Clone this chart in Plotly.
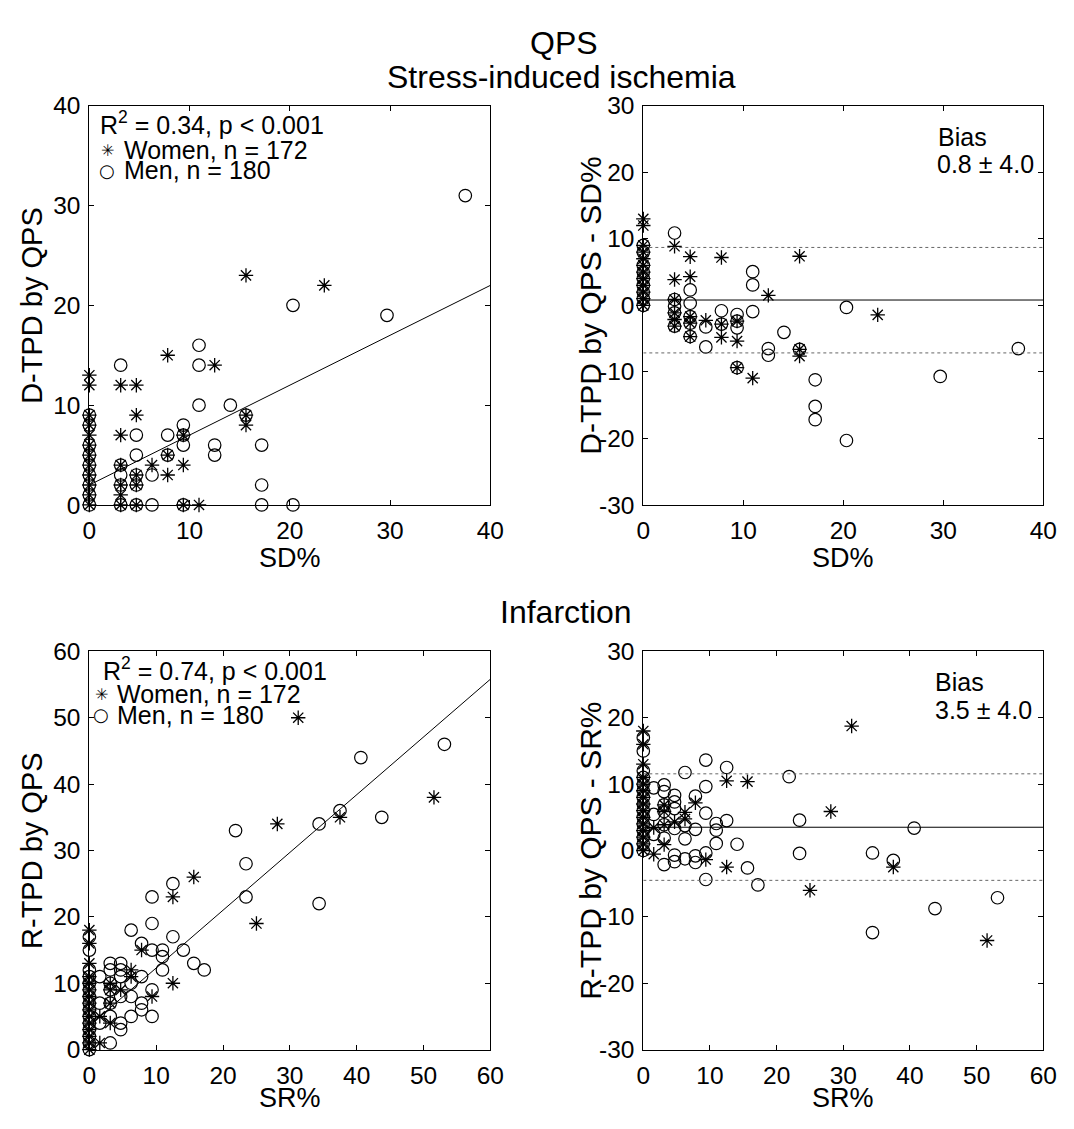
import plotly.graph_objects as go

W, H = 1074, 1129
FONT = "Liberation Sans, Arial, sans-serif"

# ---------------- Stress-induced ischemia: SD% vs D-TPD by QPS ----------------
sd_men_x = [0, 0, 0, 0, 0, 0, 0, 0, 0,
            3.125, 3.125, 3.125, 3.125, 3.125,
            4.6875, 4.6875, 4.6875, 4.6875, 4.6875,
            6.25, 6.25,
            7.8125, 7.8125,
            9.375, 9.375, 9.375, 9.375,
            10.9375, 10.9375, 10.9375,
            12.5, 12.5,
            14.0625,
            15.625,
            17.1875, 17.1875, 17.1875,
            20.3125, 20.3125,
            29.6875,
            37.5]
sd_men_y = [0, 1, 2, 3, 4, 5, 6, 8, 9,
            0, 2, 3, 4, 14,
            0, 2, 3, 5, 7,
            0, 3,
            5, 7,
            0, 6, 7, 8,
            10, 14, 16,
            5, 6,
            10,
            9,
            0, 2, 6,
            0, 20,
            19,
            31]
sd_women_x = [0, 0, 0, 0, 0, 0, 0, 0, 0, 0, 0, 0,
              3.125, 3.125, 3.125, 3.125, 3.125, 3.125,
              4.6875, 4.6875, 4.6875, 4.6875, 4.6875,
              6.25,
              7.8125, 7.8125, 7.8125,
              9.375, 9.375, 9.375,
              10.9375,
              12.5,
              15.625, 15.625, 15.625,
              23.4375]
sd_women_y = [0, 1, 2, 3, 4, 5, 6, 7, 8, 9, 12, 13,
              0, 1, 2, 4, 7, 12,
              0, 2, 3, 9, 12,
              4,
              3, 5, 15,
              0, 4, 7,
              0,
              14,
              8, 9, 23,
              22]
sd_fit = {"intercept": 2.0, "slope": 0.5}
sd_bias = {"mean": 0.8, "sd": 4.0, "upper": 8.7, "lower": -7.15}

# ---------------- Infarction: SR% vs R-TPD by QPS ----------------
sr_men_x = [0, 0, 0, 0, 0, 0, 0, 0, 0, 0, 0, 0, 0, 0, 0,
            1.5625, 1.5625, 1.5625,
            3.125, 3.125, 3.125, 3.125, 3.125, 3.125, 3.125,
            4.6875, 4.6875, 4.6875, 4.6875, 4.6875, 4.6875,
            6.25, 6.25, 6.25, 6.25,
            7.8125, 7.8125, 7.8125, 7.8125,
            9.375, 9.375, 9.375, 9.375, 9.375,
            10.9375, 10.9375, 10.9375,
            12.5, 12.5,
            14.0625,
            15.625,
            17.1875,
            21.875,
            23.4375, 23.4375,
            34.375, 34.375,
            37.5,
            40.625,
            43.75,
            53.125]
sr_men_y = [0, 1, 2, 3, 4, 5, 6, 7, 8, 9, 10, 11, 12, 15, 17,
            4, 7, 11,
            1, 5, 7, 9, 10, 12, 13,
            3, 4, 8, 11, 12, 13,
            5, 8, 10, 18,
            6, 7, 11, 16,
            5, 9, 15, 19, 23,
            12, 14, 15,
            17, 25,
            15,
            13,
            12,
            33,
            23, 28,
            22, 34,
            36,
            44,
            35,
            46]
sr_women_x = [0, 0, 0, 0, 0, 0, 0, 0, 0, 0, 0, 0, 0, 0, 0,
              1.5625, 1.5625,
              3.125, 3.125, 3.125, 3.125,
              4.6875,
              6.25, 6.25,
              7.8125,
              9.375,
              12.5, 12.5,
              15.625,
              25.0,
              28.125,
              31.25,
              37.5,
              51.5625]
sr_women_y = [0, 1, 2, 3, 4, 5, 6, 7, 8, 9, 10, 11, 13, 16, 18,
              1, 5,
              4, 7, 9, 10,
              9,
              11, 12,
              15,
              8,
              10, 23,
              26,
              19,
              34,
              50,
              35,
              38]
sr_fit = {"intercept": 3.6, "slope": 0.87}
sr_bias = {"mean": 3.5, "sd": 4.0, "upper": 11.55, "lower": -4.5}

# tick labels of the difference (Bland-Altman) axes, written with a plain hyphen
diff_tick_vals = [-30, -20, -10, 0, 10, 20, 30]
diff_tick_text = ["-30", "-20", "-10", "0", "10", "20", "30"]


def diff(xs, ys):
    return [round(y - x, 4) for x, y in zip(xs, ys)]


def px(x):
    return x / W


def py(y):
    return 1 - y / H


fig = go.Figure()

STAR = dict(symbol="asterisk-open", size=12, color="black",
            line=dict(color="black", width=1.3))
CIRC = dict(symbol="circle-open", size=12.5, color="black",
            line=dict(color="black", width=1.2))


def add_points(xs, ys, xa, ya, marker, name):
    fig.add_trace(go.Scatter(x=xs, y=ys, mode="markers", marker=marker,
                             xaxis=xa, yaxis=ya, name=name, showlegend=False,
                             cliponaxis=False))


def add_line(xs, ys, xa, ya, dash="solid", color="black", width=1):
    fig.add_trace(go.Scatter(x=xs, y=ys, mode="lines",
                             line=dict(color=color, width=width, dash=dash),
                             xaxis=xa, yaxis=ya, showlegend=False,
                             hoverinfo="skip"))


# Panel 1: correlation, ischemia
add_points(sd_men_x, sd_men_y, "x", "y", CIRC, "Men")
add_points(sd_women_x, sd_women_y, "x", "y", STAR, "Women")
fx = [0, 40]
add_line(fx, [sd_fit["intercept"] + sd_fit["slope"] * v for v in fx], "x", "y")

# Panel 2: Bland-Altman, ischemia
add_points(sd_men_x, diff(sd_men_x, sd_men_y), "x2", "y2", CIRC, "Men")
add_points(sd_women_x, diff(sd_women_x, sd_women_y), "x2", "y2", STAR, "Women")
add_line([0, 40], [sd_bias["mean"]] * 2, "x2", "y2")
add_line([0, 40], [sd_bias["upper"]] * 2, "x2", "y2", dash="dot", color="#666")
add_line([0, 40], [sd_bias["lower"]] * 2, "x2", "y2", dash="dot", color="#666")

# Panel 3: correlation, infarction
add_points(sr_men_x, sr_men_y, "x3", "y3", CIRC, "Men")
add_points(sr_women_x, sr_women_y, "x3", "y3", STAR, "Women")
fx = [0, 60]
add_line(fx, [sr_fit["intercept"] + sr_fit["slope"] * v for v in fx], "x3", "y3")

# Panel 4: Bland-Altman, infarction
add_points(sr_men_x, diff(sr_men_x, sr_men_y), "x4", "y4", CIRC, "Men")
add_points(sr_women_x, diff(sr_women_x, sr_women_y), "x4", "y4", STAR, "Women")
add_line([0, 60], [sr_bias["mean"]] * 2, "x4", "y4")
add_line([0, 60], [sr_bias["upper"]] * 2, "x4", "y4", dash="dot", color="#666")
add_line([0, 60], [sr_bias["lower"]] * 2, "x4", "y4", dash="dot", color="#666")

AX = dict(showgrid=False, zeroline=False, showline=True, linecolor="black",
          linewidth=1, mirror="ticks", ticks="inside", ticklen=5,
          tickcolor="black", tickwidth=1, dtick=10,
          tickfont=dict(family=FONT, size=24.5, color="black"))
XAX = dict(AX, ticklabelstandoff=4)
YAX = dict(AX, ticklabelstandoff=3)
DYAX = dict(YAX, tickmode="array", tickvals=diff_tick_vals, ticktext=diff_tick_text)

left_dom = [px(84), px(493)]
right_dom = [px(649), px(1057)]
top_dom = [py(504), py(95)]
bot_dom = [py(1062), py(654)]

fig.update_layout(
    width=W, height=H, margin=dict(l=0, r=0, t=0, b=0),
    paper_bgcolor="white", plot_bgcolor="white",
    font=dict(family=FONT, color="black"),
    xaxis=dict(XAX, domain=left_dom, range=[0, 40], anchor="y"),
    yaxis=dict(YAX, domain=top_dom, range=[0, 40], anchor="x"),
    xaxis2=dict(XAX, domain=right_dom, range=[0, 40], anchor="y2"),
    yaxis2=dict(DYAX, domain=top_dom, range=[-30, 30], anchor="x2"),
    xaxis3=dict(XAX, domain=left_dom, range=[0, 60], anchor="y3"),
    yaxis3=dict(YAX, domain=bot_dom, range=[0, 60], anchor="x3"),
    xaxis4=dict(XAX, domain=right_dom, range=[0, 60], anchor="y4"),
    yaxis4=dict(DYAX, domain=bot_dom, range=[-30, 30], anchor="x4"),
)

ann = []


def text(t, x, y, size=25, xanchor="left", angle=0):
    ann.append(dict(text=t, x=px(x), y=py(y), xref="paper", yref="paper",
                    xanchor=xanchor, yanchor="middle", showarrow=False,
                    textangle=angle,
                    font=dict(family=FONT, size=size, color="black")))


STAR_G = "<span style='font-family:DejaVu Sans;font-size:16px'>\u2733</span>"
CIRC_G = "<span style='font-family:DejaVu Sans;font-size:18px'>\u25CB</span>"

# titles
text("QPS", 568, 31, size=32, xanchor="center")
text("Stress-induced ischemia", 566, 66, size=32, xanchor="center")
text("Infarction", 570, 614, size=32, xanchor="center")

# axis titles
text("SD%", 288.5, 558, size=27, xanchor="center")
text("SD%", 853, 558, size=27, xanchor="center")
text("SR%", 289, 1112, size=27, xanchor="center")
text("SR%", 853, 1112, size=27, xanchor="center")
text("D-TPD by QPS", 26, 299.5, size=29, xanchor="center", angle=-90)
text("D-TPD by QPS - SD%", 595, 299.5, size=30, xanchor="center", angle=-90)
text("R-TPD by QPS", 26, 858, size=29, xanchor="center", angle=-90)
text("R-TPD by QPS - SR%", 595, 858, size=30, xanchor="center", angle=-90)

# panel 1 legend block
text("R<sup>2</sup> = 0.34, p < 0.001", 93, 112.5)
text(STAR_G, 102, 140.5, xanchor="center")
text("Women, n = 172", 117, 140.5)
text(CIRC_G, 102, 161, xanchor="center")
text("Men, n = 180", 117, 161)

# panel 3 legend block
text("R<sup>2</sup> = 0.74, p < 0.001", 96, 672)
text(STAR_G, 96, 698, xanchor="center")
text("Women, n = 172", 110, 698)
text(CIRC_G, 96, 719, xanchor="center")
text("Men, n = 180", 110, 719)

# bias labels
text("Bias", 948, 127)
text(f"{sd_bias['mean']:.1f} \u00B1 {sd_bias['sd']:.1f}", 947, 154.5)
text("Bias", 944, 685)
text(f"{sr_bias['mean']:.1f} \u00B1 {sr_bias['sd']:.1f}", 944, 714)

fig.update_layout(annotations=ann)
# place the figure flush with the page corner (no default body margin)
fig.write_html("out.html", config={"displayModeBar": False},
               post_script="document.body.style.margin='0';")
